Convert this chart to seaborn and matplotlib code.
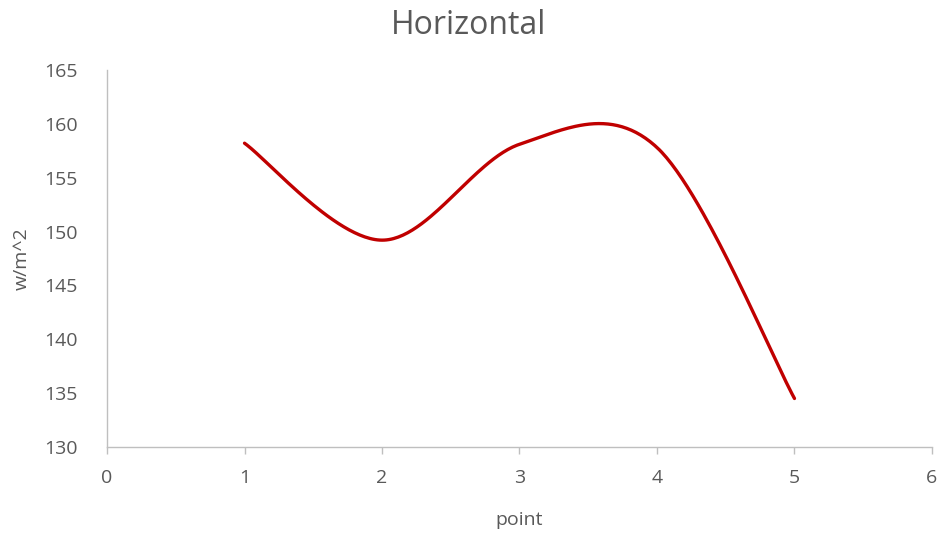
import numpy as np
import pandas as pd
import matplotlib
matplotlib.use("Agg")
import matplotlib.pyplot as plt
import seaborn as sns

# Measured irradiance at each survey point
points = [1, 2, 3, 4, 5]
irradiance = [158.2, 149.2, 158.1, 157.8, 134.5]

x_ticks = [0, 1, 2, 3, 4, 5, 6]
y_ticks = [130, 135, 140, 145, 150, 155, 160, 165]


def smooth_curve(xs, ys, n=60):
    """Piecewise cubic Bezier through the points (spreadsheet-style smoothing)."""
    P = np.column_stack([xs, ys]).astype(float)
    out = []
    for i in range(len(P) - 1):
        p0 = P[i]
        p3 = P[i + 1]
        prev = P[i - 1] if i > 0 else P[i]
        nxt = P[i + 2] if i + 2 < len(P) else P[i + 1]
        c1 = p0 + (p3 - prev) / 6.0
        c2 = p3 - (nxt - p0) / 6.0
        t = np.linspace(0, 1, n)[:, None]
        seg = ((1 - t) ** 3) * p0 + 3 * ((1 - t) ** 2) * t * c1 + 3 * (1 - t) * t ** 2 * c2 + t ** 3 * p3
        out.append(seg if i == 0 else seg[1:])
    arr = np.vstack(out)
    return arr[:, 0], arr[:, 1]


sx, sy = smooth_curve(points, irradiance)
curve = pd.DataFrame({"point": sx, "value": sy})

sns.set_theme(style="white")
plt.rcParams["font.family"] = ["Open Sans", "DejaVu Sans"]

text_color = "#595959"
axis_color = "#BFBFBF"

fig = plt.figure(figsize=(9.43, 5.34), dpi=100)
ax = fig.add_axes([0.1135, 0.163, 0.8748, 0.706])

sns.lineplot(data=curve, x="point", y="value", sort=False, estimator=None,
             color="#C00000", linewidth=2.4, ax=ax, solid_capstyle="round")

ax.set_xlim(0, 6)
ax.set_ylim(130, 165)
ax.set_xticks(x_ticks)
ax.set_yticks(y_ticks)
ax.set_xticklabels([str(v) for v in x_ticks])
ax.set_yticklabels([str(v) for v in y_ticks])

for side in ["top", "right"]:
    ax.spines[side].set_visible(False)
for side in ["left", "bottom"]:
    ax.spines[side].set_color(axis_color)
    ax.spines[side].set_linewidth(1.0)

ax.tick_params(axis="x", which="both", bottom=True, length=5, width=1.0,
               color=axis_color, labelsize=14, labelcolor=text_color, pad=11)
ax.tick_params(axis="y", which="both", left=False, labelsize=14,
               labelcolor=text_color, pad=15)

ax.set_xlabel("point", fontsize=14, color=text_color, labelpad=17)
ax.set_ylabel("w/m^2", fontsize=14, color=text_color, labelpad=10)

# Chart title centred over the whole figure
fig.text(0.4965, 1 - 34 / 534, "Horizontal", fontsize=23, color=text_color,
         ha="center", va="baseline")

fig.savefig("out.png", dpi=100)
